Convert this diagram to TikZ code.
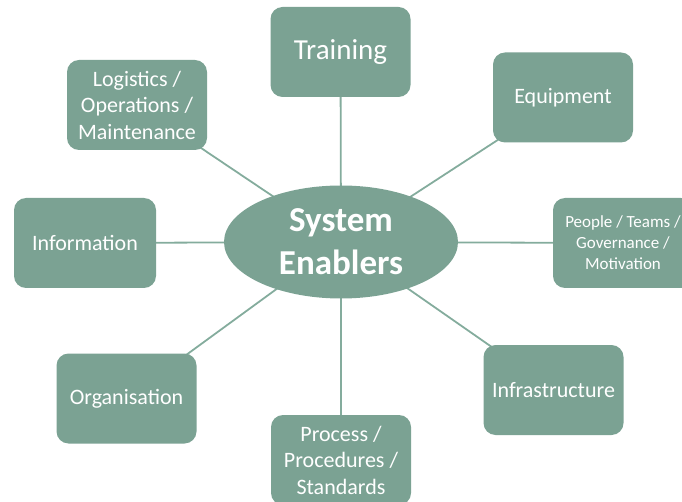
\documentclass[tikz,border=0pt]{standalone}
\usepackage{fontspec}
\setmainfont{Carlito}
\usetikzlibrary{shapes.geometric,backgrounds}
\definecolor{sage}{RGB}{123,162,147}
\definecolor{spoke}{RGB}{132,172,157}
\tikzset{
  enabler/.style={rectangle, rounded corners=12pt, fill=sage, text=white,
    minimum width=140pt, minimum height=90pt, inner sep=0pt, align=center,
    font=\fontsize{22}{26.5}\selectfont},
  hub/.style={ellipse, fill=sage, text=white, minimum width=234pt,
    minimum height=113pt, inner sep=0pt, align=center,
    font=\bfseries\fontsize{35}{43}\selectfont},
  link/.style={draw=spoke, line width=1.8pt}
}
\begin{document}
\begin{tikzpicture}[x=1pt,y=-1pt]
  \useasboundingbox (0,0) rectangle (682,502);

  \node[hub] (core) at (341,242) {System\\Enablers};

  \node[enabler, font=\fontsize{29}{34}\selectfont] (train) at (340.5,52) {Training};
  \node[enabler] (equip) at (563,97.5) {Equipment};
  \node[enabler] (logi) at (137,105) {Logistics /\\Operations /\\Maintenance};
  \node[enabler, minimum width=142pt] (info) at (85,243) {Information};
  \node[enabler, font=\fontsize{17}{21}\selectfont] (people) at (623,243) {People / Teams /\\Governance /\\Motivation};
  \node[enabler] (org) at (126.5,398.5) {Organisation};
  \node[enabler] (infra) at (553.5,390) {Infrastructure};
  \node[enabler] (proc) at (341,460) {Process /\\Procedures /\\Standards};

  % spokes run centre to centre, hidden behind the filled shapes
  \begin{scope}[on background layer]
    \foreach \n in {train,equip,logi,info,people,org,infra,proc}
      \draw[link] (core.center) -- (\n.center);
  \end{scope}
\end{tikzpicture}
\end{document}
